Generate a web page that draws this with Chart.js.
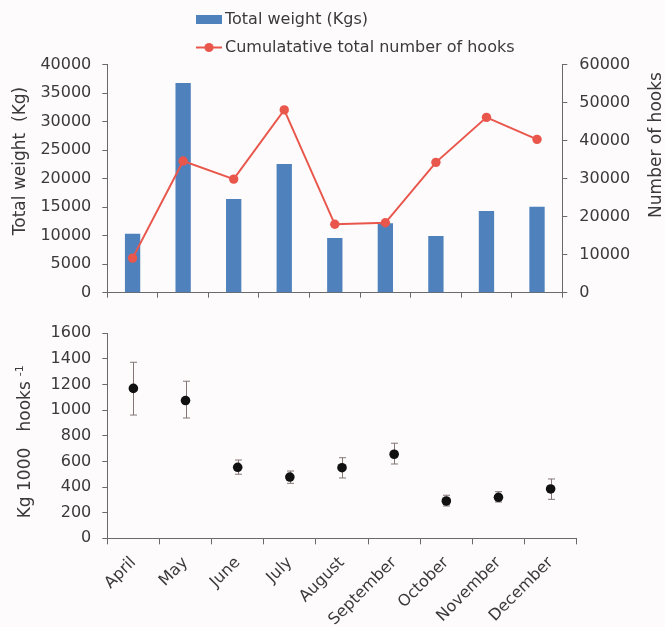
<!DOCTYPE html>
<html>
<head>
<meta charset="utf-8">
<script src="https://cdn.jsdelivr.net/npm/chart.js@4.4.1/dist/chart.umd.min.js"></script>
<style>
  html, body { margin: 0; padding: 0; background: #fdfbfb; }
  #wrap { position: relative; width: 665px; height: 627px; overflow: hidden; }
  #topChart { position: absolute; left: 0; top: 0; }
  #bottomChart { position: absolute; left: 0; top: 310px; }
</style>
</head>
<body>
<div id="wrap">
  <canvas id="topChart" width="665" height="300"></canvas>
  <canvas id="bottomChart" width="665" height="317"></canvas>
</div>
<script>
// Monthly catch data
const months = ['April', 'May', 'June', 'July', 'August', 'September', 'October', 'November', 'December'];
const totalWeight = [10350, 36800, 16450, 22600, 9600, 12200, 9950, 14350, 15100];   // kg
const hooksCount = [9100, 34650, 29900, 48100, 18000, 18400, 34300, 46150, 40350];   // hooks
const cpue = [1170, 1075, 554, 478, 551, 656, 291, 320, 385];                         // kg per 1000 hooks
const cpueHigh = [1374, 1226, 611, 525, 629, 742, 336, 364, 463];
const cpueLow = [962, 939, 500, 429, 471, 580, 252, 283, 304];

const weightLabel = 'Total weight (Kgs)';
const hooksLabel = 'Cumulatative total number of hooks';
const weightAxisTitle = 'Total weight  (Kg)';
const hooksAxisTitle = 'Number of hooks';
const cpueAxisTitle = 'Kg 1000   hooks';
const cpueAxisSup = '-1';

const FONT = '"DejaVu Sans", sans-serif';
const TEXT = '#3a3a3a';
const AXIS = '#6a6a6a';
const BLUE = '#4f81bd';
const RED = '#e9574c';
const DOT = '#111111';
const ERR = '#857676';

Chart.defaults.font.family = FONT;
Chart.defaults.font.size = 16;
Chart.defaults.color = TEXT;

const plain = v => String(v);

function axisStyle(extra) {
  return Object.assign({
    grid: { drawOnChartArea: false, drawTicks: true, tickLength: 5, tickColor: AXIS, color: AXIS },
    border: { display: true, color: AXIS, width: 1 }
  }, extra);
}

// Fixed axis box size; label overhang is left to the surrounding space
function fixedSize(prop, size) {
  return function (s) {
    s[prop] = size;
    s.paddingTop = 0; s.paddingBottom = 0; s.paddingLeft = 0; s.paddingRight = 0;
  };
}

// Two-row legend drawn above the plot
const stackedLegend = {
  id: 'stackedLegend',
  afterDraw(chart, args, opts) {
    if (!opts || !opts.rows) return;
    const ctx = chart.ctx;
    ctx.save();
    ctx.font = '16px ' + FONT;
    ctx.textBaseline = 'middle';
    ctx.textAlign = 'left';
    chart.data.datasets.forEach((ds, i) => {
      const y = opts.rows[i];
      const x0 = opts.x;
      if (ds.type === 'bar') {
        ctx.fillStyle = ds.backgroundColor;
        ctx.fillRect(x0, y - 4.5, 26, 9);
      } else {
        ctx.strokeStyle = ds.borderColor;
        ctx.lineWidth = 2;
        ctx.beginPath();
        ctx.moveTo(x0, y);
        ctx.lineTo(x0 + 26, y);
        ctx.stroke();
        ctx.fillStyle = ds.backgroundColor;
        ctx.beginPath();
        ctx.arc(x0 + 13, y, 4.6, 0, Math.PI * 2);
        ctx.fill();
      }
      ctx.fillStyle = TEXT;
      ctx.fillText(ds.label, x0 + 29, y + 0.5);
    });
    ctx.restore();
  }
};

// Vertical axis titles reading bottom to top, optional superscript
const sideTitles = {
  id: 'sideTitles',
  afterDraw(chart, args, opts) {
    if (!opts || !opts.items) return;
    const ctx = chart.ctx;
    opts.items.forEach(t => {
      ctx.save();
      ctx.translate(t.x, t.y);
      ctx.rotate(-Math.PI / 2);
      ctx.fillStyle = TEXT;
      ctx.textBaseline = 'middle';
      ctx.font = t.size + 'px ' + FONT;
      const w = ctx.measureText(t.text).width;
      const start = t.align === 'start' ? 0 : -w / 2;
      ctx.textAlign = 'left';
      ctx.fillText(t.text, start, 0);
      if (t.sup) {
        ctx.font = t.supSize + 'px ' + FONT;
        ctx.fillText(t.sup, start + w + 5, -6);
      }
      ctx.restore();
    });
  }
};

// Error bars on the CPUE points
const errorBars = {
  id: 'errorBars',
  beforeDatasetsDraw(chart) {
    const xs = chart.scales.x, ys = chart.scales.y;
    const ctx = chart.ctx;
    ctx.save();
    ctx.strokeStyle = ERR;
    ctx.lineWidth = 1;
    cpue.forEach((v, i) => {
      const px = Math.round(xs.getPixelForValue(i)) + 0.5;
      const yh = ys.getPixelForValue(cpueHigh[i]);
      const yl = ys.getPixelForValue(cpueLow[i]);
      ctx.beginPath();
      ctx.moveTo(px, yh); ctx.lineTo(px, yl);
      ctx.moveTo(px - 3.5, yh); ctx.lineTo(px + 3.5, yh);
      ctx.moveTo(px - 3.5, yl); ctx.lineTo(px + 3.5, yl);
      ctx.stroke();
    });
    ctx.restore();
  }
};

new Chart(document.getElementById('topChart'), {
  type: 'bar',
  data: {
    labels: months,
    datasets: [
      {
        type: 'bar', label: weightLabel, data: totalWeight, yAxisID: 'yWeight',
        backgroundColor: BLUE, barPercentage: 0.303, categoryPercentage: 1, order: 2
      },
      {
        type: 'line', label: hooksLabel, data: hooksCount, yAxisID: 'yHooks',
        borderColor: RED, backgroundColor: RED, borderWidth: 2, tension: 0,
        pointRadius: 4.7, pointHoverRadius: 4.7, pointBorderWidth: 0, order: 1
      }
    ]
  },
  options: {
    responsive: false,
    animation: false,
    events: [],
    layout: { padding: { top: 64.7, left: 0, right: 0, bottom: 0 } },
    plugins: {
      legend: { display: false },
      tooltip: { enabled: false },
      stackedLegend: { x: 196, rows: [19.5, 47.5] },
      sideTitles: {
        items: [
          { text: weightAxisTitle, x: 20.5, y: 161, size: 17 },
          { text: hooksAxisTitle, x: 657, y: 145, size: 17 }
        ]
      }
    },
    scales: {
      x: axisStyle({
        offset: true,
        grid: { offset: true, drawOnChartArea: false, drawTicks: true, tickLength: 5, tickColor: AXIS, color: AXIS },
        ticks: { display: false },
        afterFit: fixedSize('height', 7.3)
      }),
      yWeight: axisStyle({
        position: 'left', min: 0, max: 40000,
        ticks: { stepSize: 5000, padding: 11, callback: plain },
        afterFit: fixedSize('width', 107.3)
      }),
      yHooks: axisStyle({
        position: 'right', min: 0, max: 60000,
        ticks: { stepSize: 10000, padding: 12, callback: plain },
        afterFit: fixedSize('width', 102.7)
      })
    }
  },
  plugins: [stackedLegend, sideTitles]
});

new Chart(document.getElementById('bottomChart'), {
  type: 'line',
  data: {
    labels: months,
    datasets: [{
      label: 'CPUE', data: cpue, showLine: false,
      backgroundColor: DOT, borderColor: DOT,
      pointRadius: 4.8, pointHoverRadius: 4.8, pointBorderWidth: 0
    }]
  },
  options: {
    responsive: false,
    animation: false,
    events: [],
    layout: { padding: { top: 23.3, left: 0, right: 88.3, bottom: 0 } },
    plugins: {
      legend: { display: false },
      tooltip: { enabled: false },
      sideTitles: {
        items: [
          { text: cpueAxisTitle, x: 26, y: 208.3, size: 17, align: 'start', sup: cpueAxisSup, supSize: 11 }
        ]
      }
    },
    scales: {
      x: axisStyle({
        offset: true,
        grid: { offset: true, drawOnChartArea: false, drawTicks: true, tickLength: 6, tickColor: AXIS, color: AXIS },
        ticks: { autoSkip: false, maxRotation: 45, minRotation: 45, padding: 9, labelOffset: 0 },
        afterFit: fixedSize('height', 88.7)
      }),
      y: axisStyle({
        min: 0, max: 1600,
        ticks: { stepSize: 200, padding: 11, callback: plain },
        afterFit: fixedSize('width', 107.3)
      })
    }
  },
  plugins: [errorBars, sideTitles]
});
</script>
</body>
</html>
